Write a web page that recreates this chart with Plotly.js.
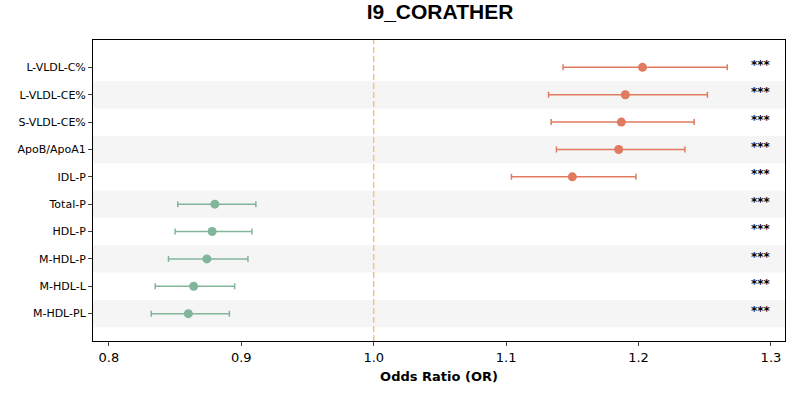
<!DOCTYPE html>
<html><head><meta charset="utf-8">
<script src="https://cdn.plot.ly/plotly-3.0.1.min.js"></script>
<style>body{margin:0}#chart{width:800px;height:400px}</style>
</head><body><div id="chart"></div>
<script>
const labels = ["L-VLDL-C%","L-VLDL-CE%","S-VLDL-CE%","ApoB/ApoA1","IDL-P","Total-P","HDL-P","M-HDL-P","M-HDL-L","M-HDL-PL"];
const orVals = [1.203,1.190,1.187,1.185,1.150,0.880,0.878,0.874,0.864,0.860];
const ciLow  = [1.143,1.132,1.134,1.138,1.104,0.852,0.850,0.845,0.835,0.832];
const ciHigh = [1.267,1.252,1.242,1.235,1.198,0.911,0.908,0.905,0.895,0.891];
const sigText = ["***","***","***","***","***","***","***","***","***","***"];

const RED = "#e07b5f", GREEN = "#82b59b";
const idx = labels.map((_, i) => i);
const traces = [0, 1].map(g => {
  const sel = idx.filter(i => (orVals[i] > 1) === (g === 0));
  return {
    x: sel.map(i => orVals[i]), y: sel.map(i => i),
    error_x: { type: "data", symmetric: false,
      array: sel.map(i => ciHigh[i] - orVals[i]),
      arrayminus: sel.map(i => orVals[i] - ciLow[i]),
      color: g === 0 ? RED : GREEN, thickness: 1.5, width: 3 },
    type: "scatter", mode: "markers",
    marker: { size: 9, color: g === 0 ? RED : GREEN },
    showlegend: false
  };
});
traces.push({
  x: idx.map(() => 1.292), y: idx.map(i => i - 0.05), text: sigText.map(s => "<b>" + s + "</b>"),
  mode: "text", type: "scatter",
  textfont: { size: 12, color: "#000000", family: "DejaVu Sans" }, textposition: "middle center",
  showlegend: false, hoverinfo: "skip"
});

const shapes = idx.filter(i => i % 2 === 1).map(i => ({
  type: "rect", xref: "paper", yref: "y", x0: 0, x1: 1, y0: i - 0.5, y1: i + 0.5,
  fillcolor: "#f5f5f5", line: { width: 0 }, layer: "below"
}));
shapes.push({ type: "line", xref: "x", yref: "paper", x0: 1, x1: 1, y0: 0, y1: 1,
  line: { color: "#f2c57c", width: 1.5, dash: "6px,3px" } });

Plotly.newPlot("chart", traces, {
  width: 800, height: 400,
  margin: { l: 93, r: 15, t: 40, b: 59 },
  font: { family: "DejaVu Sans", color: "#000" },
  title: { text: "<b>I9_CORATHER</b>", font: { size: 21, family: "Liberation Sans" }, x: 0.55, y: 0.99, yanchor: "top" },
  paper_bgcolor: "#fff", plot_bgcolor: "rgba(0,0,0,0)",
  xaxis: { range: [0.788, 1.3106], tickvals: [0.8,0.9,1.0,1.1,1.2,1.3], ticktext: ["0.8","0.9","1.0","1.1","1.2","1.3"],
    ticks: "outside", ticklen: 4, showgrid: false, zeroline: false, showline: true, mirror: true,
    linecolor: "#000", tickfont: { size: 13 },
    title: { text: "<b>Odds Ratio (OR)</b>", font: { size: 13 }, standoff: 8 } },
  yaxis: { range: [10, -1], tickvals: idx, ticktext: labels, ticks: "outside", ticklen: 4,
    showgrid: false, zeroline: false, showline: true, mirror: true, linecolor: "#000",
    tickfont: { size: 11 } },
  shapes
}, { displayModeBar: false });
</script></body></html>
